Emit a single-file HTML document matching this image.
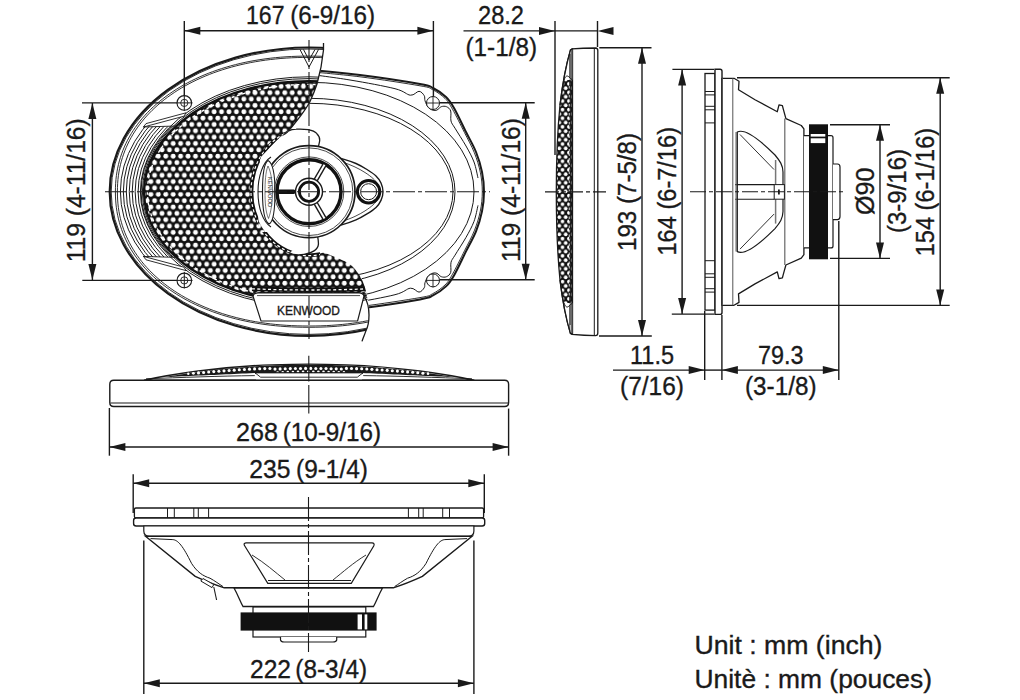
<!DOCTYPE html>
<html><head><meta charset="utf-8"><style>html,body{margin:0;padding:0;background:#fff;width:1020px;height:700px;overflow:hidden}svg{display:block}</style></head>
<body><svg width="1020" height="700" viewBox="0 0 1020 700"><defs>
<pattern id="gr" patternUnits="userSpaceOnUse" x="5.78" y="0.625" width="7.44" height="12.7">
<rect width="7.44" height="12.7" fill="#111"/>
<circle cx="3.72" cy="3.175" r="2.4" fill="#fff"/>
<circle cx="0" cy="9.525" r="2.4" fill="#fff"/>
<circle cx="7.44" cy="9.525" r="2.4" fill="#fff"/>
<circle cx="3.72" cy="-3.175" r="2.4" fill="#fff"/>
<circle cx="3.72" cy="15.875" r="2.4" fill="#fff"/>
<circle cx="0" cy="-3.175" r="2.4" fill="#fff"/>
</pattern>
<clipPath id="cutL"><path d="M0,0 L323.5,0 L323.5,50 C322.5,60 321,70 317,84 C315,90 312.5,96 309.9,101.7 C306.5,108 303,112.5 299.6,117.2 C296,122 292.5,126 289.3,130 C286,133.5 283.5,136 280.7,138.6 L262,156 L309,150 L309,240 L314,249 C330,255 345,260 352,266 C360,274 364,282 366,292 C368,300 369,308 369,315 C369,322 367.5,328 365.7,331.4 C364.5,335 363,338 362,341.4 L340,700 L0,700 Z"/></clipPath>
<clipPath id="cutR"><path d="M1020,0 L323.5,0 L323.5,50 C322.5,60 321,70 317,84 C315,90 312.5,96 309.9,101.7 C306.5,108 303,112.5 299.6,117.2 C296,122 292.5,126 289.3,130 C286,133.5 283.5,136 280.7,138.6 L262,156 L309,150 L309,240 L314,249 C330,255 345,260 352,266 C360,274 364,282 366,292 C368,300 369,308 369,315 C369,322 367.5,328 365.7,331.4 C364.5,335 363,338 362,341.4 L340,700 L1020,700 Z"/></clipPath>
<clipPath id="ridge"><rect x="100" y="126.5" width="100" height="130.4"/></clipPath>
<clipPath id="hleft"><path d="M0,0 L330,0 L309.9,101.7 L289.3,130 L280,137 L260,158 L258,232 L320,232 L320,700 L0,700 Z"/></clipPath>
</defs>
<g clip-path="url(#cutR)">
<path d="M250,66 C258.33,66.50 281.67,67.50 300.00,69.00 C318.33,70.50 340.00,72.50 360.00,75.00 C380.00,77.50 407.83,81.83 420.00,84.00 C432.17,86.17 428.67,85.83 433.00,88.00 C437.33,90.17 442.50,93.67 446.00,97.00 C449.50,100.33 450.67,102.17 454.00,108.00 C457.33,113.83 462.33,124.67 466.00,132.00 C469.67,139.33 473.33,145.33 476.00,152.00 C478.67,158.67 480.67,165.38 482.00,172.00 C483.33,178.62 484.00,185.13 484.00,191.70 C484.00,198.27 483.33,204.78 482.00,211.40 C480.67,218.02 478.67,224.73 476.00,231.40 C473.33,238.07 469.67,244.07 466.00,251.40 C462.33,258.73 457.33,269.57 454.00,275.40 C450.67,281.23 449.50,283.07 446.00,286.40 C442.50,289.73 437.33,293.23 433.00,295.40 C428.67,297.57 432.17,297.23 420.00,299.40 C407.83,301.57 380.00,305.90 360.00,308.40 C340.00,310.90 318.33,312.90 300.00,314.40 C281.67,315.90 258.33,316.90 250.00,317.40 Z" fill="#fff" stroke="#1a1a1a" stroke-width="2"/>
<path d="M300,70.8 C310.00,71.80 340.00,74.30 360.00,76.80 C380.00,79.30 407.92,83.67 420.00,85.80 C432.08,87.93 428.33,87.50 432.50,89.60 C436.67,91.70 441.67,95.13 445.00,98.40 C448.33,101.67 449.25,103.50 452.50,109.20 C455.75,114.90 460.87,125.37 464.50,132.60 C468.13,139.83 471.67,146.00 474.30,152.60 C476.93,159.20 478.97,165.68 480.30,172.20 C481.63,178.72 482.30,185.20 482.30,191.70 C482.30,198.20 481.63,204.68 480.30,211.20 C478.97,217.72 476.93,224.20 474.30,230.80 C471.67,237.40 468.13,243.57 464.50,250.80 C460.87,258.03 455.75,268.50 452.50,274.20 C449.25,279.90 448.33,281.73 445.00,285.00 C441.67,288.27 436.67,291.70 432.50,293.80 C428.33,295.90 432.08,295.47 420.00,297.60 C407.92,299.73 380.00,304.10 360.00,306.60 C340.00,309.10 310.00,311.60 300.00,312.60" fill="none" stroke="#1a1a1a" stroke-width="0.9"/>
<path d="M300,73 C308.33,74.17 334.17,77.38 350.00,80.00 C365.83,82.62 384.93,86.17 395.00,88.70 C405.07,91.23 406.40,94.77 410.40,95.20 C414.40,95.63 416.70,91.23 419.00,91.30 C421.30,91.37 423.20,94.03 424.20,95.60 C425.20,97.17 424.37,98.80 425.00,100.70 C425.63,102.60 426.72,105.42 428.00,107.00 C429.28,108.58 431.20,109.70 432.70,110.20 C434.20,110.70 435.57,110.58 437.00,110.00 C438.43,109.42 439.72,107.25 441.30,106.70 C442.88,106.15 444.93,105.98 446.50,106.70 C448.07,107.42 449.95,108.62 450.70,111.00 C451.45,113.38 450.28,118.13 451.00,121.00 C451.72,123.87 452.50,124.03 455.00,128.20 C457.50,132.37 462.83,140.37 466.00,146.00 C469.17,151.63 472.00,156.67 474.00,162.00 C476.00,167.33 477.33,175.33 478.00,178.00" fill="none" stroke="#1a1a1a" stroke-width="1"/>
<path d="M300,310.4 C308.33,309.23 334.17,306.02 350.00,303.40 C365.83,300.78 384.93,297.23 395.00,294.70 C405.07,292.17 406.40,288.63 410.40,288.20 C414.40,287.77 416.70,292.17 419.00,292.10 C421.30,292.03 423.20,289.37 424.20,287.80 C425.20,286.23 424.37,284.60 425.00,282.70 C425.63,280.80 426.72,277.98 428.00,276.40 C429.28,274.82 431.20,273.70 432.70,273.20 C434.20,272.70 435.57,272.82 437.00,273.40 C438.43,273.98 439.72,276.15 441.30,276.70 C442.88,277.25 444.93,277.42 446.50,276.70 C448.07,275.98 449.95,274.78 450.70,272.40 C451.45,270.02 450.28,265.27 451.00,262.40 C451.72,259.53 452.50,259.37 455.00,255.20 C457.50,251.03 462.83,243.03 466.00,237.40 C469.17,231.77 472.00,226.73 474.00,221.40 C476.00,216.07 477.33,208.07 478.00,205.40" fill="none" stroke="#1a1a1a" stroke-width="1"/>
<ellipse cx="309" cy="191.7" rx="165" ry="109.4" fill="none" stroke="#1a1a1a" stroke-width="1" />
<ellipse cx="309" cy="191.7" rx="146" ry="93.4" fill="none" stroke="#1a1a1a" stroke-width="1" />
<ellipse cx="309" cy="191.7" rx="144" ry="88.4" fill="none" stroke="#1a1a1a" stroke-width="1" />
<circle cx="433" cy="103" r="6.5" fill="#fff" stroke="#1a1a1a" stroke-width="1"/>
<line x1="426.00" y1="103.00" x2="440.00" y2="103.00" stroke="#1a1a1a" stroke-width="0.9" />
<line x1="433.00" y1="96.00" x2="433.00" y2="110.00" stroke="#1a1a1a" stroke-width="0.9" />
<circle cx="433" cy="280.4" r="6.5" fill="#fff" stroke="#1a1a1a" stroke-width="1"/>
<line x1="426.00" y1="280.40" x2="440.00" y2="280.40" stroke="#1a1a1a" stroke-width="0.9" />
<line x1="433.00" y1="273.40" x2="433.00" y2="287.40" stroke="#1a1a1a" stroke-width="0.9" />
</g>
<g clip-path="url(#cutL)">
<ellipse cx="309" cy="191.7" rx="199.3" ry="144.2" fill="#fff" stroke="#1a1a1a" stroke-width="2.2" />
<ellipse cx="309" cy="191.7" rx="197.8" ry="142.7" fill="none" stroke="#1a1a1a" stroke-width="0.9" />
<path d="M502.60,191.70 L502.54,196.06 L502.35,200.09 L502.04,203.99 L501.60,207.81 L501.04,211.56 L500.35,215.26 L499.54,218.91 L498.61,222.51 L497.55,226.07 L496.37,229.59 L495.07,233.06 L493.65,236.48 L492.11,239.86 L490.45,243.20 L488.67,246.49 L486.77,249.73 L484.76,252.93 L482.63,256.08 L480.39,259.17 L478.03,262.21 L475.57,265.20 L472.99,268.14 L470.31,271.02 L467.52,273.84 L464.62,276.60 L461.62,279.30 L458.51,281.94 L455.31,284.52 L452.01,287.03 L448.61,289.48 L445.11,291.86 L441.52,294.18 L437.84,296.42 L434.07,298.60 L430.21,300.70 L426.27,302.73 L422.24,304.68 L418.13,306.56 L413.94,308.37 L409.67,310.09 L405.33,311.74 L400.91,313.31 L396.42,314.80 L391.86,316.21 L387.23,317.54 L382.53,318.79 L377.77,319.95 L372.94,321.03 L368.05,322.03 L363.09,322.94 L358.07,323.76 L352.99,324.50 L347.85,325.16 L342.64,325.72 L337.36,326.21 L332.00,326.60 L326.54,326.91 L320.97,327.12 L315.23,327.26 L309.00,327.30 L302.77,327.26 L297.03,327.12 L291.46,326.91 L286.00,326.60 L280.64,326.21 L275.36,325.72 L270.15,325.16 L265.01,324.50 L259.93,323.76 L254.91,322.94 L249.95,322.03 L245.06,321.03 L240.23,319.95 L235.47,318.79 L230.77,317.54 L226.14,316.21 L221.58,314.80 L217.09,313.31 L212.67,311.74 L208.33,310.09 L204.06,308.37 L199.87,306.56 L195.76,304.68 L191.73,302.73 L187.79,300.70 L183.93,298.60 L180.16,296.42 L176.48,294.18 L172.89,291.86 L169.39,289.48 L165.99,287.03 L162.69,284.52 L159.49,281.94 L156.38,279.30 L153.38,276.60 L150.48,273.84 L147.69,271.02 L145.01,268.14 L142.43,265.20 L139.97,262.21 L137.61,259.17 L135.37,256.08 L133.24,252.93 L131.23,249.73 L129.33,246.49 L127.55,243.20 L125.89,239.86 L124.35,236.48 L122.93,233.06 L121.63,229.59 L120.45,226.07 L119.39,222.51 L118.46,218.91 L117.65,215.26 L116.96,211.56 L116.40,207.81 L115.96,203.99 L115.65,200.09 L115.46,196.06 L115.40,191.70 L115.46,187.34 L115.65,183.31 L115.96,179.41 L116.40,175.59 L116.96,171.84 L117.65,168.14 L118.46,164.49 L119.39,160.89 L120.45,157.33 L121.63,153.81 L122.93,150.34 L124.35,146.92 L125.89,143.54 L127.55,140.20 L129.33,136.91 L131.23,133.67 L133.24,130.47 L135.37,127.32 L137.61,124.23 L139.97,121.19 L142.43,118.20 L145.01,115.26 L147.69,112.38 L150.48,109.56 L153.38,106.80 L156.38,104.10 L159.49,101.46 L162.69,98.88 L165.99,96.37 L169.39,93.92 L172.89,91.54 L176.48,89.22 L180.16,86.98 L183.93,84.80 L187.79,82.70 L191.73,80.67 L195.76,78.72 L199.87,76.84 L204.06,75.03 L208.33,73.31 L212.67,71.66 L217.09,70.09 L221.58,68.60 L226.14,67.19 L230.77,65.86 L235.47,64.61 L240.23,63.45 L245.06,62.37 L249.95,61.37 L254.91,60.46 L259.93,59.64 L265.01,58.90 L270.15,58.24 L275.36,57.68 L280.64,57.19 L286.00,56.80 L291.46,56.49 L297.03,56.28 L302.77,56.14 L309.00,56.10 L315.23,56.14 L320.97,56.28 L326.54,56.49 L332.00,56.80 L337.36,57.19 L342.64,57.68 L347.85,58.24 L352.99,58.90 L358.07,59.64 L363.09,60.46 L368.05,61.37 L372.94,62.37 L377.77,63.45 L382.53,64.61 L387.23,65.86 L391.86,67.19 L396.42,68.60 L400.91,70.09 L405.33,71.66 L409.67,73.31 L413.94,75.03 L418.13,76.84 L422.24,78.72 L426.27,80.67 L430.21,82.70 L434.07,84.80 L437.84,86.98 L441.52,89.22 L445.11,91.54 L448.61,93.92 L452.01,96.37 L455.31,98.88 L458.51,101.46 L461.62,104.10 L464.62,106.80 L467.52,109.56 L470.31,112.38 L472.99,115.26 L475.57,118.20 L478.03,121.19 L480.39,124.23 L482.63,127.32 L484.76,130.47 L486.77,133.67 L488.67,136.91 L490.45,140.20 L492.11,143.54 L493.65,146.92 L495.07,150.34 L496.37,153.81 L497.55,157.33 L498.61,160.89 L499.54,164.49 L500.35,168.14 L501.04,171.84 L501.60,175.59 L502.04,179.41 L502.35,183.31 L502.54,187.34 Z" fill="none" stroke="#1a1a1a" stroke-width="0.9"/>
<path d="M500.60,191.70 L500.54,196.02 L500.35,200.01 L500.04,203.87 L499.61,207.65 L499.05,211.37 L498.37,215.04 L497.57,218.65 L496.65,222.22 L495.60,225.74 L494.43,229.22 L493.15,232.66 L491.74,236.05 L490.21,239.40 L488.57,242.71 L486.81,245.97 L484.93,249.18 L482.94,252.34 L480.84,255.46 L478.62,258.52 L476.29,261.54 L473.85,264.50 L471.30,267.40 L468.64,270.26 L465.88,273.05 L463.01,275.79 L460.04,278.46 L456.97,281.08 L453.80,283.63 L450.53,286.12 L447.17,288.55 L443.71,290.90 L440.15,293.20 L436.51,295.42 L432.78,297.57 L428.96,299.65 L425.06,301.66 L421.07,303.60 L417.00,305.46 L412.86,307.25 L408.63,308.96 L404.33,310.59 L399.96,312.15 L395.52,313.62 L391.00,315.02 L386.42,316.33 L381.77,317.57 L377.06,318.72 L372.28,319.79 L367.44,320.78 L362.53,321.68 L357.57,322.50 L352.54,323.23 L347.45,323.88 L342.29,324.44 L337.06,324.92 L331.76,325.31 L326.36,325.61 L320.85,325.83 L315.16,325.96 L309.00,326.00 L302.84,325.96 L297.15,325.83 L291.64,325.61 L286.24,325.31 L280.94,324.92 L275.71,324.44 L270.55,323.88 L265.46,323.23 L260.43,322.50 L255.47,321.68 L250.56,320.78 L245.72,319.79 L240.94,318.72 L236.23,317.57 L231.58,316.33 L227.00,315.02 L222.48,313.62 L218.04,312.15 L213.67,310.59 L209.37,308.96 L205.14,307.25 L201.00,305.46 L196.93,303.60 L192.94,301.66 L189.04,299.65 L185.22,297.57 L181.49,295.42 L177.85,293.20 L174.29,290.90 L170.83,288.55 L167.47,286.12 L164.20,283.63 L161.03,281.08 L157.96,278.46 L154.99,275.79 L152.12,273.05 L149.36,270.26 L146.70,267.40 L144.15,264.50 L141.71,261.54 L139.38,258.52 L137.16,255.46 L135.06,252.34 L133.07,249.18 L131.19,245.97 L129.43,242.71 L127.79,239.40 L126.26,236.05 L124.85,232.66 L123.57,229.22 L122.40,225.74 L121.35,222.22 L120.43,218.65 L119.63,215.04 L118.95,211.37 L118.39,207.65 L117.96,203.87 L117.65,200.01 L117.46,196.02 L117.40,191.70 L117.46,187.38 L117.65,183.39 L117.96,179.53 L118.39,175.75 L118.95,172.03 L119.63,168.36 L120.43,164.75 L121.35,161.18 L122.40,157.66 L123.57,154.18 L124.85,150.74 L126.26,147.35 L127.79,144.00 L129.43,140.69 L131.19,137.43 L133.07,134.22 L135.06,131.06 L137.16,127.94 L139.38,124.88 L141.71,121.86 L144.15,118.90 L146.70,116.00 L149.36,113.14 L152.12,110.35 L154.99,107.61 L157.96,104.94 L161.03,102.32 L164.20,99.77 L167.47,97.28 L170.83,94.85 L174.29,92.50 L177.85,90.20 L181.49,87.98 L185.22,85.83 L189.04,83.75 L192.94,81.74 L196.93,79.80 L201.00,77.94 L205.14,76.15 L209.37,74.44 L213.67,72.81 L218.04,71.25 L222.48,69.78 L227.00,68.38 L231.58,67.07 L236.23,65.83 L240.94,64.68 L245.72,63.61 L250.56,62.62 L255.47,61.72 L260.43,60.90 L265.46,60.17 L270.55,59.52 L275.71,58.96 L280.94,58.48 L286.24,58.09 L291.64,57.79 L297.15,57.57 L302.84,57.44 L309.00,57.40 L315.16,57.44 L320.85,57.57 L326.36,57.79 L331.76,58.09 L337.06,58.48 L342.29,58.96 L347.45,59.52 L352.54,60.17 L357.57,60.90 L362.53,61.72 L367.44,62.62 L372.28,63.61 L377.06,64.68 L381.77,65.83 L386.42,67.07 L391.00,68.38 L395.52,69.78 L399.96,71.25 L404.33,72.81 L408.63,74.44 L412.86,76.15 L417.00,77.94 L421.07,79.80 L425.06,81.74 L428.96,83.75 L432.78,85.83 L436.51,87.98 L440.15,90.20 L443.71,92.50 L447.17,94.85 L450.53,97.28 L453.80,99.77 L456.97,102.32 L460.04,104.94 L463.01,107.61 L465.88,110.35 L468.64,113.14 L471.30,116.00 L473.85,118.90 L476.29,121.86 L478.62,124.88 L480.84,127.94 L482.94,131.06 L484.93,134.22 L486.81,137.43 L488.57,140.69 L490.21,144.00 L491.74,147.35 L493.15,150.74 L494.43,154.18 L495.60,157.66 L496.65,161.18 L497.57,164.75 L498.37,168.36 L499.05,172.03 L499.61,175.75 L500.04,179.53 L500.35,183.39 L500.54,187.38 Z" fill="none" stroke="#1a1a1a" stroke-width="0.9"/>
<g clip-path="url(#ridge)">
<ellipse cx="309" cy="191.7" rx="188.6" ry="131.6" fill="none" stroke="#1a1a1a" stroke-width="1.0" />
<ellipse cx="309" cy="191.7" rx="185.65" ry="128.98" fill="none" stroke="#1a1a1a" stroke-width="1.0" />
<ellipse cx="309" cy="191.7" rx="182.7" ry="126.36" fill="none" stroke="#1a1a1a" stroke-width="1.0" />
<ellipse cx="309" cy="191.7" rx="179.75" ry="123.74" fill="none" stroke="#1a1a1a" stroke-width="1.0" />
<ellipse cx="309" cy="191.7" rx="176.79999999999998" ry="121.11999999999999" fill="none" stroke="#1a1a1a" stroke-width="1.0" />
<ellipse cx="309" cy="191.7" rx="173.85" ry="118.5" fill="none" stroke="#1a1a1a" stroke-width="1.0" />
<ellipse cx="309" cy="191.7" rx="170.89999999999998" ry="115.88" fill="none" stroke="#1a1a1a" stroke-width="1.0" />
<ellipse cx="309" cy="191.7" rx="167.95" ry="113.25999999999999" fill="none" stroke="#1a1a1a" stroke-width="1.0" />
</g>
<ellipse cx="309" cy="191.7" rx="168.6" ry="114.9" fill="none" stroke="#1a1a1a" stroke-width="1" />
<ellipse cx="309" cy="191.7" rx="166.6" ry="113.1" fill="none" stroke="#1a1a1a" stroke-width="1" />
<ellipse cx="309" cy="191.7" rx="165" ry="110.5" fill="url(#gr)" stroke="#111" stroke-width="2.4"/>
<ellipse cx="309" cy="191.7" rx="161.6" ry="107.3" fill="none" stroke="#fff" stroke-width="1.4" stroke-dasharray="3 2.5"/>
<path d="M143.5,127 L184,116.2 L186,112.8 L146,123.6 Z" fill="#fff" stroke="#1a1a1a" stroke-width="0.9"/>
<path d="M143.5,256.4 L184,267.2 L186,270.6 L146,259.8 Z" fill="#fff" stroke="#1a1a1a" stroke-width="0.9"/>
<line x1="143.00" y1="127.00" x2="176.00" y2="126.00" stroke="#1a1a1a" stroke-width="0.9" />
<line x1="143.00" y1="256.40" x2="176.00" y2="257.40" stroke="#1a1a1a" stroke-width="0.9" />
<circle cx="184.3" cy="102.9" r="7.3" fill="#fff" stroke="#1a1a1a" stroke-width="1.1"/>
<circle cx="184.3" cy="102.9" r="3.6" fill="none" stroke="#1a1a1a" stroke-width="0.9"/>
<line x1="176.00" y1="102.90" x2="192.50" y2="102.90" stroke="#1a1a1a" stroke-width="1" />
<line x1="184.30" y1="94.40" x2="184.30" y2="110.90" stroke="#1a1a1a" stroke-width="1" />
<circle cx="184.3" cy="280.4" r="7.3" fill="#fff" stroke="#1a1a1a" stroke-width="1.1"/>
<circle cx="184.3" cy="280.4" r="3.6" fill="none" stroke="#1a1a1a" stroke-width="0.9"/>
<line x1="176.00" y1="280.40" x2="192.50" y2="280.40" stroke="#1a1a1a" stroke-width="1" />
<line x1="184.30" y1="271.90" x2="184.30" y2="288.40" stroke="#1a1a1a" stroke-width="1" />
</g>
<path d="M323.5,43 L323.5,50 C322.5,60 321,70 317,84 C315,90 312.5,96 309.9,101.7 C306.5,108 303,112.5 299.6,117.2 C296,122 292.5,126 289.3,130 C286,133.5 283.5,136 280.7,138.6" fill="none" stroke="#1a1a1a" stroke-width="1.3"/>
<path d="M364,296 C368,302 369,308 369,315 C369,322 367.5,328 365.7,331.4 C364.5,335 363,338 362,341.4" fill="none" stroke="#1a1a1a" stroke-width="1.3"/>
<path d="M300,49.5 L309,67 L318.5,49.5 M303.5,49.5 L309,60 L315,49.5" fill="none" stroke="#1a1a1a" stroke-width="1"/>
<path d="M252,288.6 C290,290.2 330,290.2 368,288.6" fill="none" stroke="#111" stroke-width="4.6" clip-path="url(#cutL)"/>
<path d="M252,288.8 C290,290.4 330,290.4 368,288.8" fill="none" stroke="#fff" stroke-width="1.3" stroke-dasharray="3 2.4" clip-path="url(#cutL)"/>
<path d="M253,296 Q254,293 258,293 L359,293 Q363,293 364,296 L357.6,321 L261,321 Z" fill="#fff" stroke="#1a1a1a" stroke-width="1.2"/>
<path d="M257,295.6 L360,295.6" stroke="#1a1a1a" stroke-width="0.8"/>
<text x="277" y="314.8" font-size="12.8" fill="#1a1a1a" stroke="#1a1a1a" stroke-width="0.35" style="font-family:'Liberation Sans',sans-serif" text-anchor="start" textLength="63" lengthAdjust="spacingAndGlyphs" >KENWOOD</text>
<ellipse cx="309" cy="191.7" rx="57" ry="63" fill="#fff" stroke="none"/>
<ellipse cx="309" cy="191.7" rx="57.5" ry="63.5" fill="none" stroke="#111" stroke-width="3.6" clip-path="url(#hleft)"/>
<ellipse cx="309" cy="191.7" rx="58" ry="64" fill="none" stroke="#fff" stroke-width="1.2" stroke-dasharray="3 2.5" clip-path="url(#hleft)"/>
<path d="M288.5,131 C291,129.5 294,129.2 296.2,129.2 C301,129 305,129.2 308.2,129.6 C312,130.3 315,131.5 316.7,133.4 C319,135.5 319.8,138 319.7,140.3 C319.6,142.5 319,144.2 318.5,146" fill="#fff" stroke="#1a1a1a" stroke-width="1.3"/>
<path d="M289.4,252.4 C293,255.4 300,254.9 304,254.4 C312,253.4 318,249.4 318.4,244.4 C318.6,241.4 318,238.4 317.6,236.4" fill="#fff" stroke="#1a1a1a" stroke-width="1.3"/>
<path d="M335.0,157.5 C336.25,157.72 339.00,157.80 342.50,158.80 C346.00,159.80 351.92,161.72 356.00,163.50 C360.08,165.28 363.67,167.42 367.00,169.50 C370.33,171.58 373.67,173.75 376.00,176.00 C378.33,178.25 379.83,180.38 381.00,183.00 C382.17,185.62 383.00,188.80 383.00,191.70 C383.00,194.60 382.17,197.78 381.00,200.40 C379.83,203.02 378.33,205.15 376.00,207.40 C373.67,209.65 370.33,211.82 367.00,213.90 C363.67,215.98 360.08,218.12 356.00,219.90 C351.92,221.68 346.00,223.60 342.50,224.60 C339.00,225.60 336.25,225.68 335.00,225.90 Z" fill="#fff" stroke="#1a1a1a" stroke-width="1.4"/>
<path d="M337.0,161.5 C338.00,161.63 340.00,161.38 343.00,162.30 C346.00,163.22 351.33,165.30 355.00,167.00 C358.67,168.70 362.00,170.58 365.00,172.50 C368.00,174.42 370.87,176.50 373.00,178.50 C375.13,180.50 376.70,182.30 377.80,184.50 C378.90,186.70 379.60,189.30 379.60,191.70 C379.60,194.10 378.90,196.70 377.80,198.90 C376.70,201.10 375.13,202.90 373.00,204.90 C370.87,206.90 368.00,208.98 365.00,210.90 C362.00,212.82 358.67,214.70 355.00,216.40 C351.33,218.10 346.00,220.18 343.00,221.10 C340.00,222.02 338.00,221.77 337.00,221.90" fill="none" stroke="#1a1a1a" stroke-width="0.8"/>
<path d="M271,157 C263,162 258,176 258,192 C258,208 263,222 271,227" fill="#fff" stroke="#1a1a1a" stroke-width="1.1"/>
<circle cx="309" cy="191.7" r="46" fill="#fff" stroke="#1a1a1a" stroke-width="1.7"/>
<circle cx="309" cy="191.7" r="43.8" fill="none" stroke="#1a1a1a" stroke-width="0.8"/>
<path d="M268,160.5 C264,163 262.5,175 262.5,192 C262.5,209 264,221 269,224 C273.5,222 275,209 275,192 C275,175 273,163 268,160.5 Z" fill="#fff" stroke="#1a1a1a" stroke-width="1.1"/>
<path d="M268,166 C265.5,172 265,182 265,192 C265,202 265.5,212 268.5,218.5 C271,212 272.5,202 272.5,192 C272.5,182 271,172 268,166 Z" fill="none" stroke="#1a1a1a" stroke-width="0.6"/>
<text x="0" y="0" font-size="6" fill="#1a1a1a" style="font-family:'Liberation Sans',sans-serif" text-anchor="middle" transform="translate(268.3 192) rotate(90)" textLength="30" lengthAdjust="spacingAndGlyphs">KENWOOD</text>
<circle cx="309" cy="191.7" r="34.8" fill="none" stroke="#1a1a1a" stroke-width="0.8"/>
<circle cx="309" cy="191.7" r="32" fill="none" stroke="#111" stroke-width="3.4"/>
<line x1="315.00" y1="181.31" x2="324.50" y2="164.85" stroke="#1a1a1a" stroke-width="4.8" />
<line x1="315.00" y1="181.31" x2="324.50" y2="164.85" stroke="#fff" stroke-width="2" />
<line x1="315.00" y1="202.09" x2="324.50" y2="218.55" stroke="#1a1a1a" stroke-width="4.8" />
<line x1="315.00" y1="202.09" x2="324.50" y2="218.55" stroke="#fff" stroke-width="2" />
<path d="M276,189.39999999999998 L293.6,189.39999999999998 L300,191.7 L293.6,194.0 L276,194.0 Z" fill="#111"/>
<circle cx="309" cy="191.7" r="13.5" fill="#fff" stroke="#1a1a1a" stroke-width="1.4"/>
<circle cx="309" cy="191.7" r="9.6" fill="#fff" stroke="#111" stroke-width="2.8"/>
<circle cx="368.6" cy="191.7" r="11.2" fill="#fff" stroke="#111" stroke-width="3"/>
<circle cx="368.6" cy="191.7" r="8" fill="#fff" stroke="#1a1a1a" stroke-width="1"/>
<line x1="105" y1="191.7" x2="490" y2="191.7" stroke="#1a1a1a" stroke-width="1.1" stroke-dasharray="22 3 4 3"/>
<line x1="309" y1="40" x2="309" y2="339" stroke="#1a1a1a" stroke-width="1.1" stroke-dasharray="22 3 4 3"/>
<defs>
<pattern id="grs" patternUnits="userSpaceOnUse" x="556.1" y="0" width="6.4" height="8.6">
<rect width="6.4" height="8.6" fill="#111"/>
<circle cx="3.2" cy="2.15" r="1.85" fill="#fff"/>
<circle cx="6.4" cy="6.45" r="1.85" fill="#fff"/>
<circle cx="0" cy="6.45" r="1.85" fill="#fff"/>
</pattern>
<pattern id="grt" patternUnits="userSpaceOnUse" x="0" y="0" width="7.5" height="20">
<rect width="7.5" height="20" fill="#111"/>
<circle cx="3.75" cy="4.5" r="1.9" fill="#fff"/>
</pattern>
</defs>
<path d="M572,48.8 C580,48.2 590,48 595.5,48 Q597.8,48.2 597.8,50.5 L597.8,333 Q597.8,335.6 595.5,335.6 C590,335.5 580,335 572,334.3 Z" fill="#fff" stroke="#1a1a1a" stroke-width="1.3"/>
<line x1="594.30" y1="49.00" x2="594.30" y2="335.00" stroke="#1a1a1a" stroke-width="1" />
<path d="M572.5,49 L570.5,50 C567,62 563,80 560,105 C557.5,130 556.3,160 556.3,192 C556.3,225 557.5,255 560,280 C563,305 567,322 570.5,333.5 L572.5,334 Z" fill="url(#grs)" stroke="#1a1a1a" stroke-width="1.3"/>
<path d="M572.5,49 L570.5,50 C568.5,58 566,68 564,80 L572.5,80 Z" fill="#fff"/>
<path d="M572.5,334 L570.5,333.5 C568.5,326 566,315 564,303 L572.5,303 Z" fill="#fff"/>
<path d="M564,80 C565.5,76 567,75 569,77 L572.5,80" fill="none" stroke="#1a1a1a" stroke-width="1"/>
<path d="M564,303 C565.5,307 567,308 569,306 L572.5,303" fill="none" stroke="#1a1a1a" stroke-width="1"/>
<path d="M572.5,49 L570.5,50 C567,62 563,80 560,105" fill="none" stroke="#1a1a1a" stroke-width="1.3"/>
<path d="M572.5,334 L570.5,333.5 C567,322 563,305 560,280" fill="none" stroke="#1a1a1a" stroke-width="1.3"/>
<line x1="569.80" y1="53.00" x2="569.80" y2="77.00" stroke="#1a1a1a" stroke-width="0.8" />
<line x1="569.80" y1="331.00" x2="569.80" y2="306.00" stroke="#1a1a1a" stroke-width="0.8" />
<line x1="570.00" y1="82.00" x2="570.00" y2="301.00" stroke="#111" stroke-width="1.3" />
<line x1="569.30" y1="86.00" x2="569.30" y2="297.00" stroke="#fff" stroke-width="1" stroke-dasharray="2.5 2"/>
<line x1="572.00" y1="49.00" x2="572.00" y2="334.30" stroke="#1a1a1a" stroke-width="1.3" />
<line x1="570.20" y1="54.00" x2="570.20" y2="325.00" stroke="#1a1a1a" stroke-width="0.8" />
<line x1="545" y1="191.9" x2="606" y2="191.9" stroke="#1a1a1a" stroke-width="1.1" stroke-dasharray="14 3 4 3"/>
<rect x="705" y="73.5" width="10" height="236.6" fill="#fff" stroke="#1a1a1a" stroke-width="1.3"/>
<line x1="705.00" y1="91.50" x2="715.00" y2="91.50" stroke="#1a1a1a" stroke-width="1" />
<line x1="705.00" y1="292.10" x2="715.00" y2="292.10" stroke="#1a1a1a" stroke-width="1" />
<line x1="705.00" y1="94.90" x2="715.00" y2="94.90" stroke="#1a1a1a" stroke-width="1" />
<line x1="705.00" y1="288.70" x2="715.00" y2="288.70" stroke="#1a1a1a" stroke-width="1" />
<line x1="705.00" y1="106.30" x2="715.00" y2="106.30" stroke="#1a1a1a" stroke-width="1" />
<line x1="705.00" y1="277.30" x2="715.00" y2="277.30" stroke="#1a1a1a" stroke-width="1" />
<line x1="705.00" y1="109.80" x2="715.00" y2="109.80" stroke="#1a1a1a" stroke-width="1" />
<line x1="705.00" y1="273.80" x2="715.00" y2="273.80" stroke="#1a1a1a" stroke-width="1" />
<line x1="705.00" y1="122.90" x2="715.00" y2="122.90" stroke="#1a1a1a" stroke-width="1" />
<line x1="705.00" y1="260.70" x2="715.00" y2="260.70" stroke="#1a1a1a" stroke-width="1" />
<path d="M715,314.4 L715,69.2 L720,69.2 Q722,69.2 722,71.2 L722,312.4 Q722,314.4 720,314.4 Z" fill="#fff" stroke="#1a1a1a" stroke-width="1.4"/>
<path d="M722.0,78.3 L734.0,78.3 L739.0,81.2 L738.5,89.7 L755.0,99.7 L777.3,111.7 L779.0,104.9 L782.4,105.7 L783.3,109.2 L785.9,118.6 L801.3,125.5 L803.9,128.9 L803.9,191.8 L803.9,254.7 L801.3,258.1 L785.9,265.0 L783.3,274.4 L782.4,277.9 L779.0,278.7 L777.3,271.9 L755.0,283.9 L738.5,293.9 L739.0,302.4 L734.0,305.3 L722.0,305.3 Z" fill="#fff" stroke="#1a1a1a" stroke-width="1.3" stroke-linejoin="round"/>
<line x1="722.50" y1="78.30" x2="722.50" y2="305.30" stroke="#555" stroke-width="1" />
<line x1="732.80" y1="78.30" x2="732.80" y2="305.30" stroke="#555" stroke-width="1" />
<line x1="784.80" y1="118.60" x2="784.80" y2="265.00" stroke="#666" stroke-width="1.2" />
<path d="M737.3,132 C745,128 760,140 775,155 C780,161 782.8,165 783,172 L783,211.6 C782.8,218.6 780,222.6 775,228.6 C760,243.6 745,255.6 737.3,251.6 Z" fill="#fff" stroke="#1a1a1a" stroke-width="1.2"/>
<line x1="740.00" y1="134.50" x2="774.00" y2="169.50" stroke="#1a1a1a" stroke-width="0.9" />
<line x1="740.00" y1="249.10" x2="774.00" y2="214.10" stroke="#1a1a1a" stroke-width="0.9" />
<line x1="775.60" y1="160.00" x2="775.60" y2="223.60" stroke="#777" stroke-width="1.5" />
<line x1="735.20" y1="184.60" x2="774.20" y2="184.60" stroke="#1a1a1a" stroke-width="1.1" />
<line x1="735.20" y1="199.20" x2="774.20" y2="199.20" stroke="#1a1a1a" stroke-width="1.1" />
<rect x="774.2" y="184.6" width="10.2" height="14.6" fill="#fff" stroke="#1a1a1a" stroke-width="1"/>
<rect x="778" y="189.5" width="1.8" height="5" fill="#1a1a1a"/>
<line x1="736.10" y1="132.00" x2="736.10" y2="251.60" stroke="#555" stroke-width="1.1" />
<path d="M803.9,135.7 L831,135.7 Q833,135.7 833,137.7 L833,245.9 Q833,247.9 831,247.9 L803.9,247.9" fill="#fff" stroke="#1a1a1a" stroke-width="1.2"/>
<path d="M833,164 L837.5,164 Q840,164 840,167 L840,216.6 Q840,219.6 837.5,219.6 L833,219.6" fill="#fff" stroke="#1a1a1a" stroke-width="1.2"/>
<rect x="809" y="124.3" width="19" height="135.0" fill="#111"/>
<rect x="810.7" y="134" width="14.6" height="2.6" fill="#fff"/>
<rect x="810.7" y="138.3" width="14.6" height="4.8" fill="#fff"/>
<line x1="690" y1="191.8" x2="845" y2="191.8" stroke="#1a1a1a" stroke-width="1.1" stroke-dasharray="16 3 4 3"/>
<path d="M144,380.2 C170,374.5 220,366.5 271.6,364.8 C290,364.3 300,364.2 309,364.2 C318,364.2 328,364.3 346.4,364.8 C398,366.5 448,374.5 474.3,380.2 Z" fill="#fff" stroke="#1a1a1a" stroke-width="1.3"/>
<path d="M164.0,377.10 L168.0,376.43 L172.0,375.77 L176.0,375.14 L180.0,374.52 L184.0,373.92 L188.0,373.34 L192.0,372.78 L196.0,372.23 L200.0,371.71 L204.0,371.20 L208.0,370.72 L212.0,370.25 L216.0,369.80 L220.0,369.37 L224.0,368.96 L228.0,368.57 L232.0,368.20 L236.0,367.84 L240.0,367.51 L244.0,367.19 L248.0,366.90 L252.0,366.62 L256.0,366.36 L260.0,366.12 L264.0,365.89 L268.0,365.69 L272.0,365.51 L276.0,365.34 L280.0,365.20 L284.0,365.07 L288.0,364.96 L292.0,364.87 L296.0,364.80 L300.0,364.75 L304.0,364.71 L308.0,364.70 L312.0,364.71 L316.0,364.73 L320.0,364.77 L324.0,364.83 L328.0,364.91 L332.0,365.01 L336.0,365.13 L340.0,365.27 L344.0,365.42 L348.0,365.60 L352.0,365.79 L356.0,366.00 L360.0,366.23 L364.0,366.48 L368.0,366.75 L372.0,367.04 L376.0,367.35 L380.0,367.67 L384.0,368.02 L388.0,368.38 L392.0,368.76 L396.0,369.17 L400.0,369.59 L404.0,370.02 L408.0,370.48 L412.0,370.96 L416.0,371.45 L420.0,371.97 L424.0,372.50 L428.0,373.05 L432.0,373.63 L436.0,374.22 L440.0,374.82 L444.0,375.45 L448.0,376.10 L452.0,376.76 L454.0,377.17 L450.0,376.99 L446.0,376.81 L442.0,376.62 L438.0,376.44 L434.0,376.26 L430.0,376.07 L426.0,375.89 L422.0,375.71 L418.0,375.52 L414.0,375.34 L410.0,375.16 L406.0,374.97 L402.0,374.79 L398.0,374.61 L394.0,374.42 L390.0,374.24 L386.0,374.06 L382.0,373.87 L378.0,373.69 L374.0,373.50 L370.0,373.32 L366.0,373.14 L362.0,373.00 L358.0,373.00 L354.0,373.00 L350.0,373.00 L346.0,373.00 L342.0,373.00 L338.0,373.00 L334.0,373.00 L330.0,373.00 L326.0,373.00 L322.0,373.00 L318.0,373.00 L314.0,373.00 L310.0,373.00 L306.0,373.00 L302.0,373.00 L298.0,373.00 L294.0,373.00 L290.0,373.00 L286.0,373.00 L282.0,373.00 L278.0,373.00 L274.0,373.00 L270.0,373.00 L266.0,373.00 L262.0,373.00 L258.0,373.00 L254.0,373.05 L250.0,373.23 L246.0,373.41 L242.0,373.60 L238.0,373.78 L234.0,373.96 L230.0,374.15 L226.0,374.33 L222.0,374.51 L218.0,374.70 L214.0,374.88 L210.0,375.06 L206.0,375.25 L202.0,375.43 L198.0,375.61 L194.0,375.80 L190.0,375.98 L186.0,376.17 L182.0,376.35 L178.0,376.53 L174.0,376.72 L170.0,376.90 L166.0,377.08 Z" fill="#1a1a1a"/>
<circle cx="188.3" cy="373.83" r="1.23" fill="#fff"/>
<circle cx="193.4" cy="373.36" r="1.47" fill="#fff"/>
<circle cx="198.5" cy="372.90" r="1.55" fill="#fff"/>
<circle cx="203.6" cy="372.46" r="1.55" fill="#fff"/>
<circle cx="208.7" cy="372.03" r="1.55" fill="#fff"/>
<circle cx="213.8" cy="371.62" r="1.55" fill="#fff"/>
<circle cx="218.9" cy="371.22" r="1.55" fill="#fff"/>
<circle cx="224.0" cy="370.84" r="1.55" fill="#fff"/>
<circle cx="229.1" cy="370.48" r="1.55" fill="#fff"/>
<circle cx="234.2" cy="370.13" r="1.55" fill="#fff"/>
<circle cx="239.3" cy="369.79" r="1.55" fill="#fff"/>
<circle cx="244.4" cy="369.47" r="1.55" fill="#fff"/>
<circle cx="249.5" cy="369.17" r="1.55" fill="#fff"/>
<circle cx="254.6" cy="368.88" r="1.55" fill="#fff"/>
<circle cx="259.7" cy="368.72" r="1.55" fill="#fff"/>
<circle cx="264.8" cy="368.58" r="1.55" fill="#fff"/>
<circle cx="269.9" cy="368.45" r="1.55" fill="#fff"/>
<circle cx="275.0" cy="369.08" r="1.55" fill="#fff"/>
<circle cx="277.6" cy="372.48" r="1.3" fill="#fff"/>
<circle cx="280.1" cy="368.89" r="1.55" fill="#fff"/>
<circle cx="282.7" cy="372.29" r="1.3" fill="#fff"/>
<circle cx="285.2" cy="368.73" r="1.55" fill="#fff"/>
<circle cx="287.8" cy="372.13" r="1.3" fill="#fff"/>
<circle cx="290.3" cy="368.61" r="1.55" fill="#fff"/>
<circle cx="292.9" cy="372.01" r="1.3" fill="#fff"/>
<circle cx="295.4" cy="368.51" r="1.55" fill="#fff"/>
<circle cx="298.0" cy="371.91" r="1.3" fill="#fff"/>
<circle cx="300.5" cy="368.44" r="1.55" fill="#fff"/>
<circle cx="303.1" cy="371.84" r="1.3" fill="#fff"/>
<circle cx="305.6" cy="368.41" r="1.55" fill="#fff"/>
<circle cx="308.2" cy="371.81" r="1.3" fill="#fff"/>
<circle cx="310.7" cy="368.40" r="1.55" fill="#fff"/>
<circle cx="313.3" cy="371.80" r="1.3" fill="#fff"/>
<circle cx="315.8" cy="368.43" r="1.55" fill="#fff"/>
<circle cx="318.4" cy="371.83" r="1.3" fill="#fff"/>
<circle cx="320.9" cy="368.48" r="1.55" fill="#fff"/>
<circle cx="323.5" cy="371.88" r="1.3" fill="#fff"/>
<circle cx="326.0" cy="368.57" r="1.55" fill="#fff"/>
<circle cx="328.6" cy="371.97" r="1.3" fill="#fff"/>
<circle cx="331.1" cy="368.69" r="1.55" fill="#fff"/>
<circle cx="333.7" cy="372.09" r="1.3" fill="#fff"/>
<circle cx="336.2" cy="368.84" r="1.55" fill="#fff"/>
<circle cx="338.8" cy="372.24" r="1.3" fill="#fff"/>
<circle cx="341.3" cy="369.02" r="1.55" fill="#fff"/>
<circle cx="343.9" cy="372.42" r="1.3" fill="#fff"/>
<circle cx="346.4" cy="368.41" r="1.55" fill="#fff"/>
<circle cx="351.5" cy="368.53" r="1.55" fill="#fff"/>
<circle cx="356.6" cy="368.67" r="1.55" fill="#fff"/>
<circle cx="361.7" cy="368.82" r="1.55" fill="#fff"/>
<circle cx="366.8" cy="369.07" r="1.55" fill="#fff"/>
<circle cx="371.9" cy="369.37" r="1.55" fill="#fff"/>
<circle cx="377.0" cy="369.69" r="1.55" fill="#fff"/>
<circle cx="382.1" cy="370.01" r="1.55" fill="#fff"/>
<circle cx="387.2" cy="370.36" r="1.55" fill="#fff"/>
<circle cx="392.3" cy="370.72" r="1.55" fill="#fff"/>
<circle cx="397.4" cy="371.09" r="1.55" fill="#fff"/>
<circle cx="402.5" cy="371.48" r="1.55" fill="#fff"/>
<circle cx="407.6" cy="371.89" r="1.55" fill="#fff"/>
<circle cx="412.7" cy="372.31" r="1.55" fill="#fff"/>
<circle cx="417.8" cy="372.75" r="1.55" fill="#fff"/>
<circle cx="422.9" cy="373.20" r="1.55" fill="#fff"/>
<circle cx="428.0" cy="373.67" r="1.31" fill="#fff"/>
<path d="M146,378.8 C180,377.5 220,376 254.8,375.6 M363.2,375.6 C398,376 438,377.5 472,378.8 M255,372.8 L363,372.8 M255,372.8 L260.6,377.2 M363,372.8 L357.3,377.2 M260.6,377.2 L357.3,377.2" fill="none" stroke="#1a1a1a" stroke-width="0.9"/>
<rect x="256" y="373.4" width="106" height="6.4" fill="#fff"/>
<path d="M255,372.8 L363,372.8 M255,372.8 L260.6,377.2 M363,372.8 L357.3,377.2 M260.6,377.2 L357.3,377.2" fill="none" stroke="#1a1a1a" stroke-width="0.9"/>
<path d="M113.8,380.2 L504.6,380.2 Q508.6,380.2 508.6,384.2 L508.6,402.5 Q508.6,406.5 504.6,406.5 L113.8,406.5 Q109.8,406.5 109.8,402.5 L109.8,384.2 Q109.8,380.2 113.8,380.2 Z" fill="#fff" stroke="#1a1a1a" stroke-width="1.4"/>
<line x1="110.50" y1="403.00" x2="508.00" y2="403.00" stroke="#1a1a1a" stroke-width="1.1" />
<line x1="308.80" y1="355.70" x2="308.80" y2="381.40" stroke="#1a1a1a" stroke-width="1.1" />
<line x1="308.80" y1="385.00" x2="308.80" y2="413.60" stroke="#1a1a1a" stroke-width="1.1" />
<rect x="134.4" y="508" width="349.2" height="10" rx="1.5" fill="#fff" stroke="#1a1a1a" stroke-width="1.3"/>
<line x1="167.50" y1="508.00" x2="167.50" y2="518.00" stroke="#1a1a1a" stroke-width="1" />
<line x1="449.50" y1="508.00" x2="449.50" y2="518.00" stroke="#1a1a1a" stroke-width="1" />
<line x1="174.30" y1="508.00" x2="174.30" y2="518.00" stroke="#1a1a1a" stroke-width="1" />
<line x1="442.70" y1="508.00" x2="442.70" y2="518.00" stroke="#1a1a1a" stroke-width="1" />
<line x1="193.80" y1="508.00" x2="193.80" y2="518.00" stroke="#1a1a1a" stroke-width="1" />
<line x1="423.20" y1="508.00" x2="423.20" y2="518.00" stroke="#1a1a1a" stroke-width="1" />
<line x1="198.30" y1="508.00" x2="198.30" y2="518.00" stroke="#1a1a1a" stroke-width="1" />
<line x1="418.70" y1="508.00" x2="418.70" y2="518.00" stroke="#1a1a1a" stroke-width="1" />
<line x1="208.60" y1="508.00" x2="208.60" y2="518.00" stroke="#1a1a1a" stroke-width="1" />
<line x1="408.40" y1="508.00" x2="408.40" y2="518.00" stroke="#1a1a1a" stroke-width="1" />
<rect x="133.6" y="518" width="351.1" height="8" rx="2.5" fill="#fff" stroke="#1a1a1a" stroke-width="1.4"/>
<path d="M143.8,526 L473.9,526 L473.9,531 Q473.9,536.3 468,536.3 L150,536.3 Q143.8,536.3 143.8,531 Z" fill="#fff" stroke="#1a1a1a" stroke-width="1.2"/>
<path d="M145.5,536.3 L195.2,576.4 C203,580 212,584 224.3,587.8 L393.3,587.8 C405.6,584 414.6,580 422.4,576.4 L472.1,536.3 Z" fill="#fff" stroke="#1a1a1a" stroke-width="1.4"/>
<path d="M150.5,538.6 L172.8,539.6 C178,540 183,546 191.5,563.3 C197,572 203,576 210,578.2 C215,581 219,584 223,586.6" fill="none" stroke="#1a1a1a" stroke-width="1"/>
<path d="M467.1,538.6 L444.8,539.6 C439.6,540 434.6,546 426.1,563.3 C420.6,572 414.6,576 407.6,578.2 C402.6,581 398.6,584 394.6,586.6" fill="none" stroke="#1a1a1a" stroke-width="1"/>
<path d="M200.8,581 L203,578.5 L213.8,584.6 L212,587.6 Z" fill="#fff" stroke="#1a1a1a" stroke-width="1"/>
<line x1="213.80" y1="587.00" x2="216.60" y2="600.00" stroke="#1a1a1a" stroke-width="1.1" />
<path d="M246,542.8 L372,542.8 Q375,543 373.7,546 L351.3,583.4 L267.8,583.4 L244.8,546 Q243,543 246,542.8 Z" fill="#fff" stroke="#1a1a1a" stroke-width="1.2"/>
<path d="M252,555 C265,563 275,572 285,580 M366,555 C353,563 343,572 333,580" fill="none" stroke="#1a1a1a" stroke-width="0.9"/>
<line x1="268.00" y1="580.50" x2="351.00" y2="580.50" stroke="#1a1a1a" stroke-width="1" />
<path d="M234,588 C238,595 240,601 243,606.5 L373.5,606.5 C376.5,601 378.5,595 382.5,588 Z" fill="#fff" stroke="#1a1a1a" stroke-width="1.3"/>
<rect x="253" y="607" width="112.8" height="30" fill="#fff" stroke="#1a1a1a" stroke-width="1.2"/>
<path d="M280.5,637 L280.5,640 Q281,642 284,642 L333,642 Q336.2,642 336.7,640 L336.7,637" fill="#fff" stroke="#1a1a1a" stroke-width="1.2"/>
<rect x="240.6" y="612.4" width="136" height="18.2" fill="#111"/>
<rect x="357.6" y="614.4" width="4.4" height="15" fill="#fff"/>
<rect x="364.6" y="614.4" width="2.7" height="15" fill="#fff"/>
<line x1="308.5" y1="497" x2="308.5" y2="652" stroke="#1a1a1a" stroke-width="1.1" stroke-dasharray="24 3 4 3"/>
<line x1="184.30" y1="21.00" x2="184.30" y2="95.50" stroke="#1a1a1a" stroke-width="1.4" />
<line x1="433.40" y1="21.00" x2="433.40" y2="96.00" stroke="#1a1a1a" stroke-width="1.4" />
<line x1="184.30" y1="30.80" x2="433.40" y2="30.80" stroke="#1a1a1a" stroke-width="1.4" />
<polygon points="184.30,30.80 200.30,26.80 200.30,34.80" fill="#1a1a1a"/>
<polygon points="433.40,30.80 417.40,26.80 417.40,34.80" fill="#1a1a1a"/>
<text x="246" y="24.2" font-size="26.2" fill="#1a1a1a" stroke="#1a1a1a" stroke-width="0.35" style="font-family:'Liberation Sans',sans-serif" text-anchor="start" textLength="38.5" lengthAdjust="spacingAndGlyphs" >167</text>
<text x="290.2" y="24.2" font-size="26.2" fill="#1a1a1a" stroke="#1a1a1a" stroke-width="0.35" style="font-family:'Liberation Sans',sans-serif" text-anchor="start" textLength="85" lengthAdjust="spacingAndGlyphs" >(6-9/16)</text>
<line x1="463.50" y1="30.90" x2="555.00" y2="30.90" stroke="#1a1a1a" stroke-width="1.4" />
<polygon points="555.00,30.90 539.00,26.90 539.00,34.90" fill="#1a1a1a"/>
<line x1="555.00" y1="30.90" x2="597.50" y2="30.90" stroke="#1a1a1a" stroke-width="1.4" />
<polygon points="597.50,30.90 613.50,26.90 613.50,34.90" fill="#1a1a1a"/>
<line x1="555.00" y1="21.00" x2="555.00" y2="155.00" stroke="#1a1a1a" stroke-width="1.4" />
<line x1="597.50" y1="21.00" x2="597.50" y2="47.00" stroke="#1a1a1a" stroke-width="1.4" />
<text x="478" y="24" font-size="26.2" fill="#1a1a1a" stroke="#1a1a1a" stroke-width="0.35" style="font-family:'Liberation Sans',sans-serif" text-anchor="start" textLength="46" lengthAdjust="spacingAndGlyphs" >28.2</text>
<text x="465.5" y="56.3" font-size="26.2" fill="#1a1a1a" stroke="#1a1a1a" stroke-width="0.35" style="font-family:'Liberation Sans',sans-serif" text-anchor="start" textLength="71.5" lengthAdjust="spacingAndGlyphs" >(1-1/8)</text>
<line x1="82.00" y1="102.90" x2="176.50" y2="102.90" stroke="#1a1a1a" stroke-width="1.4" />
<line x1="82.30" y1="280.40" x2="176.50" y2="280.40" stroke="#1a1a1a" stroke-width="1.4" />
<line x1="92.40" y1="103.00" x2="92.40" y2="280.00" stroke="#1a1a1a" stroke-width="1.4" />
<polygon points="92.40,103.00 88.40,119.00 96.40,119.00" fill="#1a1a1a"/>
<polygon points="92.40,280.00 88.40,264.00 96.40,264.00" fill="#1a1a1a"/>
<text x="85.4" y="262.3" font-size="26.2" fill="#1a1a1a" stroke="#1a1a1a" stroke-width="0.35" style="font-family:'Liberation Sans',sans-serif" text-anchor="start" textLength="144" lengthAdjust="spacingAndGlyphs" transform="rotate(-90 85.4 262.3)" >119 (4-11/16)</text>
<line x1="440.00" y1="102.80" x2="534.70" y2="102.80" stroke="#1a1a1a" stroke-width="1.4" />
<line x1="440.00" y1="279.80" x2="534.70" y2="279.80" stroke="#1a1a1a" stroke-width="1.4" />
<line x1="525.70" y1="102.80" x2="525.70" y2="279.80" stroke="#1a1a1a" stroke-width="1.4" />
<polygon points="525.70,102.80 521.70,118.80 529.70,118.80" fill="#1a1a1a"/>
<polygon points="525.70,279.80 521.70,263.80 529.70,263.80" fill="#1a1a1a"/>
<text x="519.9" y="262" font-size="26.2" fill="#1a1a1a" stroke="#1a1a1a" stroke-width="0.35" style="font-family:'Liberation Sans',sans-serif" text-anchor="start" textLength="144" lengthAdjust="spacingAndGlyphs" transform="rotate(-90 519.9 262)" >119 (4-11/16)</text>
<line x1="599.30" y1="47.80" x2="651.50" y2="47.80" stroke="#1a1a1a" stroke-width="1.4" />
<line x1="599.00" y1="336.00" x2="651.80" y2="336.00" stroke="#1a1a1a" stroke-width="1.4" />
<line x1="642.00" y1="47.80" x2="642.00" y2="336.00" stroke="#1a1a1a" stroke-width="1.4" />
<polygon points="642.00,47.80 638.00,63.80 646.00,63.80" fill="#1a1a1a"/>
<polygon points="642.00,336.00 638.00,320.00 646.00,320.00" fill="#1a1a1a"/>
<text x="636" y="251" font-size="26.2" fill="#1a1a1a" stroke="#1a1a1a" stroke-width="0.35" style="font-family:'Liberation Sans',sans-serif" text-anchor="start" textLength="118" lengthAdjust="spacingAndGlyphs" transform="rotate(-90 636 251)" >193 (7-5/8)</text>
<line x1="672.40" y1="69.40" x2="714.00" y2="69.40" stroke="#1a1a1a" stroke-width="1.4" />
<line x1="671.80" y1="314.10" x2="714.00" y2="314.10" stroke="#1a1a1a" stroke-width="1.4" />
<line x1="682.10" y1="69.40" x2="682.10" y2="314.10" stroke="#1a1a1a" stroke-width="1.4" />
<polygon points="682.10,69.40 678.10,85.40 686.10,85.40" fill="#1a1a1a"/>
<polygon points="682.10,314.10 678.10,298.10 686.10,298.10" fill="#1a1a1a"/>
<text x="675.5" y="255.5" font-size="26.2" fill="#1a1a1a" stroke="#1a1a1a" stroke-width="0.35" style="font-family:'Liberation Sans',sans-serif" text-anchor="start" textLength="128.5" lengthAdjust="spacingAndGlyphs" transform="rotate(-90 675.5 255.5)" >164 (6-7/16)</text>
<line x1="737.00" y1="77.80" x2="949.70" y2="77.80" stroke="#1a1a1a" stroke-width="1.4" />
<line x1="737.00" y1="305.40" x2="949.70" y2="305.40" stroke="#1a1a1a" stroke-width="1.4" />
<line x1="940.20" y1="77.80" x2="940.20" y2="305.40" stroke="#1a1a1a" stroke-width="1.4" />
<polygon points="940.20,77.80 936.20,93.80 944.20,93.80" fill="#1a1a1a"/>
<polygon points="940.20,305.40 936.20,289.40 944.20,289.40" fill="#1a1a1a"/>
<text x="934" y="256.3" font-size="26.2" fill="#1a1a1a" stroke="#1a1a1a" stroke-width="0.35" style="font-family:'Liberation Sans',sans-serif" text-anchor="start" textLength="128.5" lengthAdjust="spacingAndGlyphs" transform="rotate(-90 934 256.3)" >154 (6-1/16)</text>
<line x1="830.00" y1="124.80" x2="890.00" y2="124.80" stroke="#1a1a1a" stroke-width="1.4" />
<line x1="830.00" y1="258.40" x2="890.00" y2="258.40" stroke="#1a1a1a" stroke-width="1.4" />
<line x1="880.00" y1="124.80" x2="880.00" y2="258.40" stroke="#1a1a1a" stroke-width="1.4" />
<polygon points="880.00,124.80 876.00,140.80 884.00,140.80" fill="#1a1a1a"/>
<polygon points="880.00,258.40 876.00,242.40 884.00,242.40" fill="#1a1a1a"/>
<text x="873.8" y="215" font-size="26.2" fill="#1a1a1a" stroke="#1a1a1a" stroke-width="0.35" style="font-family:'Liberation Sans',sans-serif" text-anchor="start" textLength="47.5" lengthAdjust="spacingAndGlyphs" transform="rotate(-90 873.8 215)" >Ø90</text>
<text x="905.8" y="233" font-size="26.2" fill="#1a1a1a" stroke="#1a1a1a" stroke-width="0.35" style="font-family:'Liberation Sans',sans-serif" text-anchor="start" textLength="84" lengthAdjust="spacingAndGlyphs" transform="rotate(-90 905.8 233)" >(3-9/16)</text>
<line x1="704.70" y1="311.00" x2="704.70" y2="380.00" stroke="#1a1a1a" stroke-width="1.4" />
<line x1="721.90" y1="315.00" x2="721.90" y2="380.00" stroke="#1a1a1a" stroke-width="1.4" />
<line x1="613.00" y1="370.10" x2="704.70" y2="370.10" stroke="#1a1a1a" stroke-width="1.4" />
<polygon points="704.70,370.10 688.70,366.10 688.70,374.10" fill="#1a1a1a"/>
<line x1="704.70" y1="370.10" x2="721.90" y2="370.10" stroke="#1a1a1a" stroke-width="1.4" />
<line x1="721.90" y1="370.10" x2="838.80" y2="370.10" stroke="#1a1a1a" stroke-width="1.4" />
<polygon points="721.90,370.10 737.90,366.10 737.90,374.10" fill="#1a1a1a"/>
<polygon points="838.80,370.10 822.80,366.10 822.80,374.10" fill="#1a1a1a"/>
<line x1="838.80" y1="221.00" x2="838.80" y2="380.00" stroke="#1a1a1a" stroke-width="1.4" />
<text x="630" y="363.5" font-size="26.2" fill="#1a1a1a" stroke="#1a1a1a" stroke-width="0.35" style="font-family:'Liberation Sans',sans-serif" text-anchor="start" textLength="44" lengthAdjust="spacingAndGlyphs" >11.5</text>
<text x="620" y="394.5" font-size="26.2" fill="#1a1a1a" stroke="#1a1a1a" stroke-width="0.35" style="font-family:'Liberation Sans',sans-serif" text-anchor="start" textLength="64" lengthAdjust="spacingAndGlyphs" >(7/16)</text>
<text x="758" y="363.5" font-size="26.2" fill="#1a1a1a" stroke="#1a1a1a" stroke-width="0.35" style="font-family:'Liberation Sans',sans-serif" text-anchor="start" textLength="45.5" lengthAdjust="spacingAndGlyphs" >79.3</text>
<text x="745" y="394.5" font-size="26.2" fill="#1a1a1a" stroke="#1a1a1a" stroke-width="0.35" style="font-family:'Liberation Sans',sans-serif" text-anchor="start" textLength="71.5" lengthAdjust="spacingAndGlyphs" >(3-1/8)</text>
<line x1="109.40" y1="408.00" x2="109.40" y2="455.70" stroke="#1a1a1a" stroke-width="1.4" />
<line x1="508.60" y1="408.60" x2="508.60" y2="455.70" stroke="#1a1a1a" stroke-width="1.4" />
<line x1="109.40" y1="447.00" x2="508.60" y2="447.00" stroke="#1a1a1a" stroke-width="1.4" />
<polygon points="109.40,447.00 125.40,443.00 125.40,451.00" fill="#1a1a1a"/>
<polygon points="508.60,447.00 492.60,443.00 492.60,451.00" fill="#1a1a1a"/>
<text x="236" y="440.8" font-size="26.2" fill="#1a1a1a" stroke="#1a1a1a" stroke-width="0.35" style="font-family:'Liberation Sans',sans-serif" text-anchor="start" textLength="42" lengthAdjust="spacingAndGlyphs" >268</text>
<text x="282.7" y="440.8" font-size="26.2" fill="#1a1a1a" stroke="#1a1a1a" stroke-width="0.35" style="font-family:'Liberation Sans',sans-serif" text-anchor="start" textLength="98.5" lengthAdjust="spacingAndGlyphs" >(10-9/16)</text>
<line x1="133.20" y1="474.30" x2="133.20" y2="513.00" stroke="#1a1a1a" stroke-width="1.4" />
<line x1="484.30" y1="474.30" x2="484.30" y2="513.00" stroke="#1a1a1a" stroke-width="1.4" />
<line x1="133.20" y1="483.30" x2="484.30" y2="483.30" stroke="#1a1a1a" stroke-width="1.4" />
<polygon points="133.20,483.30 149.20,479.30 149.20,487.30" fill="#1a1a1a"/>
<polygon points="484.30,483.30 468.30,479.30 468.30,487.30" fill="#1a1a1a"/>
<text x="249.3" y="477.5" font-size="26.2" fill="#1a1a1a" stroke="#1a1a1a" stroke-width="0.35" style="font-family:'Liberation Sans',sans-serif" text-anchor="start" textLength="41.2" lengthAdjust="spacingAndGlyphs" >235</text>
<text x="296" y="477.5" font-size="26.2" fill="#1a1a1a" stroke="#1a1a1a" stroke-width="0.35" style="font-family:'Liberation Sans',sans-serif" text-anchor="start" textLength="72" lengthAdjust="spacingAndGlyphs" >(9-1/4)</text>
<line x1="143.80" y1="540.60" x2="143.80" y2="694.00" stroke="#1a1a1a" stroke-width="1.4" />
<line x1="473.90" y1="540.60" x2="473.90" y2="694.00" stroke="#1a1a1a" stroke-width="1.4" />
<line x1="143.80" y1="683.20" x2="473.90" y2="683.20" stroke="#1a1a1a" stroke-width="1.4" />
<polygon points="143.80,683.20 159.80,679.20 159.80,687.20" fill="#1a1a1a"/>
<polygon points="473.90,683.20 457.90,679.20 457.90,687.20" fill="#1a1a1a"/>
<text x="250" y="677.7" font-size="26.2" fill="#1a1a1a" stroke="#1a1a1a" stroke-width="0.35" style="font-family:'Liberation Sans',sans-serif" text-anchor="start" textLength="41" lengthAdjust="spacingAndGlyphs" >222</text>
<text x="295.3" y="677.7" font-size="26.2" fill="#1a1a1a" stroke="#1a1a1a" stroke-width="0.35" style="font-family:'Liberation Sans',sans-serif" text-anchor="start" textLength="71.8" lengthAdjust="spacingAndGlyphs" >(8-3/4)</text>
<text x="694.5" y="654.4" font-size="25.5" fill="#1a1a1a" stroke="#1a1a1a" stroke-width="0.35" style="font-family:'Liberation Sans',sans-serif" text-anchor="start" textLength="188" lengthAdjust="spacingAndGlyphs" >Unit : mm (inch)</text>
<text x="694.5" y="688.3" font-size="25.5" fill="#1a1a1a" stroke="#1a1a1a" stroke-width="0.35" style="font-family:'Liberation Sans',sans-serif" text-anchor="start" textLength="237.5" lengthAdjust="spacingAndGlyphs" >Unitè : mm (pouces)</text></svg></body></html>
